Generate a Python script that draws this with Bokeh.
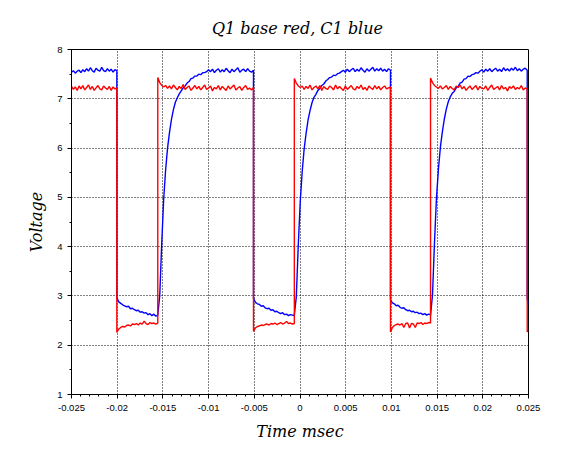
import numpy as np
from bokeh.plotting import figure
from bokeh.models import Range1d, FixedTicker
from bokeh.embed import file_html
from bokeh.resources import INLINE

# ---- data ----
# switching instants (time axis units), shared by both traces
edges = [-0.025, -0.02004, -0.01556, -0.00509, -0.00062, 0.0099, 0.01428, 0.02486, 0.025]

# Q1 base (red), one list per segment between edges
red_seg0 = [7.25, 7.19, 7.24, 7.17, 7.26, 7.20, 7.27, 7.18, 7.23, 7.28, 7.19, 7.25, 7.17,
            7.22, 7.27, 7.20, 7.18, 7.26, 7.22, 7.19, 7.25, 7.17, 7.24, 7.20, 7.22]
red_seg1 = [2.26, 2.33, 2.36, 2.38, 2.37, 2.40, 2.41, 2.39, 2.43, 2.42, 2.44, 2.41, 2.45,
            2.43, 2.49, 2.44, 2.42, 2.46, 2.44, 2.45, 2.43, 2.45]
red_seg2 = [7.43, 7.33, 7.27, 7.24, 7.27, 7.21, 7.26, 7.20, 7.28, 7.23, 7.18, 7.25, 7.21,
            7.29, 7.19, 7.23, 7.26, 7.17, 7.22, 7.27, 7.20, 7.25, 7.18, 7.23, 7.28, 7.19,
            7.22, 7.26, 7.16, 7.23, 7.20, 7.27, 7.18, 7.25, 7.21, 7.17, 7.26, 7.20, 7.24,
            7.28, 7.18, 7.22, 7.25, 7.17, 7.23, 7.27, 7.19, 7.22, 7.18, 7.23]
red_seg3 = [2.28, 2.35, 2.38, 2.39, 2.41, 2.40, 2.42, 2.43, 2.41, 2.44, 2.43, 2.45, 2.42,
            2.44, 2.46, 2.43, 2.45, 2.48, 2.44, 2.45, 2.43, 2.44]
red_seg4 = [7.41, 7.32, 7.26, 7.23, 7.26, 7.19, 7.25, 7.21, 7.28, 7.18, 7.23, 7.26, 7.20,
            7.27, 7.17, 7.25, 7.21, 7.19, 7.26, 7.23, 7.18, 7.28, 7.20, 7.25, 7.21, 7.17,
            7.26, 7.19, 7.23, 7.27, 7.20, 7.18, 7.25, 7.21, 7.28, 7.19, 7.23, 7.17, 7.26,
            7.22, 7.19, 7.27, 7.20, 7.25, 7.18, 7.23, 7.26, 7.20, 7.22, 7.24]
red_seg5 = [2.27, 2.36, 2.40, 2.42, 2.43, 2.41, 2.44, 2.36, 2.44, 2.45, 2.35, 2.44, 2.43,
            2.36, 2.45, 2.44, 2.46, 2.42, 2.45, 2.44, 2.46, 2.45]
red_seg6 = [7.42, 7.33, 7.27, 7.24, 7.21, 7.26, 7.20, 7.23, 7.27, 7.19, 7.25, 7.21, 7.18,
            7.26, 7.23, 7.28, 7.20, 7.25, 7.17, 7.22, 7.26, 7.19, 7.23, 7.27, 7.18, 7.25,
            7.21, 7.20, 7.26, 7.17, 7.23, 7.28, 7.19, 7.22, 7.25, 7.18, 7.27, 7.20, 7.23,
            7.16, 7.25, 7.21, 7.26, 7.19, 7.23, 7.20, 7.27, 7.18, 7.22, 7.20]
red_seg7 = [2.27, 2.30]

# C1 (blue)
blue_seg0 = [7.54, 7.57, 7.52, 7.56, 7.58, 7.53, 7.59, 7.55, 7.61, 7.56, 7.63, 7.57, 7.54,
             7.62, 7.58, 7.56, 7.64, 7.57, 7.55, 7.61, 7.56, 7.60, 7.54, 7.59, 7.57]
blue_seg1 = [2.96, 2.88, 2.85, 2.82, 2.80, 2.78, 2.79, 2.74, 2.75, 2.72, 2.70, 2.71, 2.67,
             2.68, 2.65, 2.66, 2.62, 2.64, 2.60, 2.63, 2.59, 2.61]
blue_seg2 = [2.62, 3.00, 4.05, 4.95, 5.55, 6.00, 6.32, 6.58, 6.78, 6.93, 7.02, 7.10, 7.16,
             7.22, 7.26, 7.32, 7.35, 7.41, 7.42, 7.46, 7.46, 7.50, 7.49, 7.53, 7.53,
             7.55, 7.59, 7.55, 7.60, 7.53, 7.58, 7.61, 7.54, 7.59, 7.55, 7.62, 7.57, 7.53,
             7.60, 7.55, 7.59, 7.63, 7.54, 7.58, 7.60, 7.55, 7.61, 7.56, 7.54, 7.58]
blue_seg3 = [2.95, 2.87, 2.84, 2.83, 2.79, 2.80, 2.76, 2.74, 2.75, 2.71, 2.72, 2.68, 2.69,
             2.66, 2.64, 2.66, 2.62, 2.63, 2.60, 2.62, 2.61, 2.60]
blue_seg4 = [2.61, 2.98, 4.02, 4.90, 5.52, 5.98, 6.30, 6.57, 6.76, 6.92, 7.03, 7.09, 7.17,
             7.21, 7.27, 7.30, 7.36, 7.39, 7.43, 7.44, 7.48, 7.47, 7.51, 7.52, 7.55,
             7.58, 7.54, 7.60, 7.55, 7.59, 7.62, 7.55, 7.60, 7.56, 7.63, 7.58, 7.54, 7.61,
             7.56, 7.60, 7.64, 7.56, 7.61, 7.57, 7.62, 7.56, 7.60, 7.55, 7.61, 7.58]
blue_seg5 = [2.92, 2.86, 2.84, 2.80, 2.81, 2.77, 2.75, 2.76, 2.72, 2.70, 2.71, 2.68, 2.69,
             2.66, 2.67, 2.64, 2.65, 2.62, 2.64, 2.61, 2.63, 2.62]
blue_seg6 = [2.60, 3.02, 4.08, 4.97, 5.57, 6.02, 6.33, 6.59, 6.79, 6.94, 7.04, 7.11, 7.15,
             7.22, 7.25, 7.32, 7.34, 7.40, 7.41, 7.46, 7.45, 7.49, 7.50, 7.53, 7.52,
             7.56, 7.59, 7.54, 7.60, 7.56, 7.61, 7.55, 7.59, 7.62, 7.56, 7.60, 7.55, 7.63,
             7.57, 7.61, 7.56, 7.62, 7.58, 7.64, 7.57, 7.61, 7.56, 7.60, 7.62, 7.58]
blue_seg7 = [2.95, 2.82]

x_ticks = [-0.025, -0.02, -0.015, -0.01, -0.005, 0, 0.005, 0.01, 0.015, 0.02, 0.025]
x_tick_labels = ["-0.025", "-0.02", "-0.015", "-0.01", "-0.005", "0",
                 "0.005", "0.01", "0.015", "0.02", "0.025"]
y_ticks = [1, 2, 3, 4, 5, 6, 7, 8]
y_tick_labels = ["1", "2", "3", "4", "5", "6", "7", "8"]

red_segs = [red_seg0, red_seg1, red_seg2, red_seg3, red_seg4, red_seg5, red_seg6, red_seg7]
blue_segs = [blue_seg0, blue_seg1, blue_seg2, blue_seg3, blue_seg4, blue_seg5, blue_seg6, blue_seg7]


def trace(segs):
    xs, ys = [], []
    for i, vals in enumerate(segs):
        xs.extend(np.linspace(edges[i], edges[i + 1], len(vals)))
        ys.extend(vals)
    return xs, ys


rx, ry = trace(red_segs)
bx, by = trace(blue_segs)

# ---- figure ----
p = figure(width=559, height=445, output_backend="svg", toolbar_location=None,
           x_range=Range1d(-0.025, 0.025), y_range=Range1d(1, 8),
           min_border_left=71, min_border_right=31, min_border_top=49, min_border_bottom=51)

p.title.text = "Q1 base red,  C1 blue"
p.title.align = "center"
p.title.text_font = "DejaVu Serif"
p.title.text_font_style = "italic"
p.title.text_font_size = "16px"
p.title.text_color = "black"
p.title.offset = 0
p.title.standoff = 20
p.title.vertical_align = "top"

p.background_fill_color = "white"
p.border_fill_color = "white"
p.outline_line_color = "black"
p.outline_line_width = 1

p.line(bx, by, line_color="#0000ff", line_width=1.4)
p.line(rx, ry, line_color="#ff0000", line_width=1.4)

for ax in (p.xaxis[0], p.yaxis[0]):
    ax.axis_line_color = "black"
    ax.axis_line_width = 1
    ax.major_tick_line_color = "black"
    ax.minor_tick_line_color = "black"
    ax.major_tick_in = 0
    ax.major_tick_out = 4
    ax.minor_tick_in = 0
    ax.minor_tick_out = 2
    ax.major_label_text_font = "Liberation Sans"
    ax.major_label_text_font_size = "9.5px"
    ax.major_label_text_color = "black"
    ax.axis_label_text_font = "DejaVu Serif"
    ax.axis_label_text_font_style = "italic"
    ax.axis_label_text_font_size = "16px"
    ax.axis_label_text_color = "black"

p.xaxis.ticker = FixedTicker(ticks=x_ticks,
                             minor_ticks=[x_ticks[0] + 0.001 * k for k in range(51)])
p.xaxis.major_label_overrides = {t: l for t, l in zip(x_ticks, x_tick_labels)}
p.yaxis.ticker = FixedTicker(ticks=y_ticks,
                             minor_ticks=[1 + 0.5 * k for k in range(15)])
p.yaxis.major_label_overrides = {t: l for t, l in zip(y_ticks, y_tick_labels)}

p.xaxis.axis_label = "Time msec"
p.yaxis.axis_label = "Voltage"
p.xaxis.axis_label_standoff = 8
p.yaxis.axis_label_standoff = 8
p.xaxis.major_label_standoff = 6
p.yaxis.major_label_standoff = 5

for g in (p.xgrid[0], p.ygrid[0]):
    g.grid_line_color = "black"
    g.grid_line_dash = "1 2"
    g.grid_line_width = 1
    g.grid_line_alpha = 1
p.xgrid.ticker = FixedTicker(ticks=x_ticks)
p.ygrid.ticker = FixedTicker(ticks=y_ticks)

open("out.html", "w").write(file_html(p, INLINE))
